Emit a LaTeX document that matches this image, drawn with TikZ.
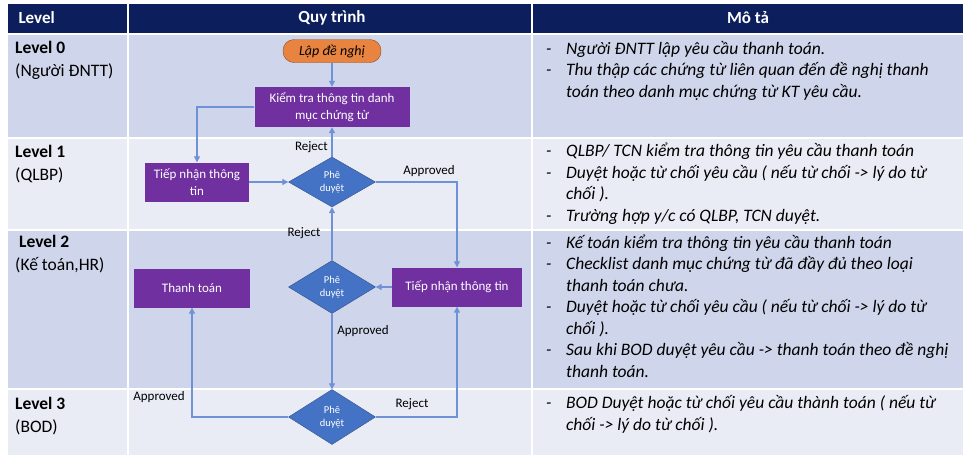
\documentclass[tikz,border=0pt]{standalone}
\usepackage{fontspec}
\setmainfont{Carlito}
\usetikzlibrary{arrows.meta,positioning,shapes.geometric,calc}
\tikzset{>=Stealth}
\definecolor{hdrblue}{HTML}{0C1F5C}
\definecolor{rowdark}{HTML}{CFD5EA}
\definecolor{rowlight}{HTML}{E9EBF5}
\definecolor{procpurple}{HTML}{7030A0}
\definecolor{startorange}{HTML}{E8843F}
\definecolor{decblue}{HTML}{4472C4}
\definecolor{flowline}{HTML}{6F91D6}
\newcommand{\dsh}{\makebox[20pt][l]{-}}
\newcommand{\ind}{\hspace*{20pt}}

\begin{document}
\begin{tikzpicture}[x=1pt, y=-1pt,
    hdr/.style={text=white, font=\bfseries\fontsize{17}{20}\selectfont},
    lvl/.style={font=\fontsize{17.5}{23}\selectfont, align=left, anchor=base west, inner sep=0pt},
    desc/.style={font=\itshape\fontsize{17.5}{21.5}\selectfont, align=left, anchor=base west, inner sep=0pt},
    start/.style={draw=startorange!60!black, fill=startorange, rounded corners=11pt, font=\itshape\fontsize{14}{16}\selectfont},
    proc/.style={fill=procpurple, text=white, align=center, inner sep=0pt, font=\fontsize{13}{16.5}\selectfont},
    dec/.style={diamond, aspect=1.7, draw=decblue!70!black, fill=decblue, text=white, align=center, inner sep=0pt,
      minimum width=87pt, minimum height=53pt, font=\fontsize{10.5}{13.5}\selectfont},
    flow/.style={draw=flowline, line width=1.2pt, -{Triangle[length=6pt,width=6pt]}},
    lbl/.style={font=\fontsize{13}{15}\selectfont, inner sep=1pt}
  ]
    \useasboundingbox (0,0) rectangle (974,464);
    \fill[white] (0,0) rectangle (974,464);

    % table
    \fill[hdrblue]  (8,4)   rectangle (963,34);
    \fill[rowdark]  (8,34)  rectangle (963,138);
    \fill[rowlight] (8,138) rectangle (963,230);
    \fill[rowdark]  (8,230) rectangle (963,389);
    \fill[rowlight] (8,389) rectangle (963,455);
    \foreach \yy in {34,138,230,389} \draw[white, line width=2pt] (8,\yy) -- (963,\yy);
    \draw[white, line width=2pt] (128,4) -- (128,455);
    \draw[white, line width=2pt] (532,4) -- (532,455);

    \node[hdr, anchor=west] (hlevel) at (15,18) {Level};
    \node[hdr] (hflow) at (332,18) {Quy trình};
    \node[hdr] (hdesc) at (748,18) {Mô tả};

    % last line sits on the given baseline
    \node[lvl] (lvA) at (15,76)  {\textbf{Level 0}\\(Người ĐNTT)};
    \node[lvl] (lvB) at (15,180) {\textbf{Level 1}\\(QLBP)};
    \node[lvl] (lvC) at (15,270) {\textbf{\ Level 2}\\(Kế toán,HR)};
    \node[lvl] (lvD) at (15,432) {\textbf{Level 3}\\(BOD)};

    \node[desc] (dsA) at (546,97) {\dsh Người ĐNTT lập yêu cầu thanh toán.\\
      \dsh Thu thập các chứng từ liên quan đến đề nghị thanh\\
      \ind toán theo danh mục chứng từ KT yêu cầu.};
    \node[desc] (dsB) at (546,221) {\dsh QLBP/ TCN kiểm tra thông tin yêu cầu thanh toán\\
      \dsh Duyệt hoặc từ chối yêu cầu ( nếu từ chối -> lý do từ\\
      \ind chối ).\\
      \dsh Trường hợp y/c có QLBP, TCN duyệt.};
    \node[desc] (dsC) at (546,377) {\dsh Kế toán kiểm tra thông tin yêu cầu thanh toán\\
      \dsh Checklist danh mục chứng từ đã đầy đủ theo loại\\
      \ind thanh toán chưa.\\
      \dsh Duyệt hoặc từ chối yêu cầu ( nếu từ chối -> lý do từ\\
      \ind chối ).\\
      \dsh Sau khi BOD duyệt yêu cầu -> thanh toán theo đề nghị\\
      \ind thanh toán.};
    \node[desc] (dsD) at (546,430) {\dsh BOD Duyệt hoặc từ chối yêu cầu thành toán ( nếu từ\\
      \ind chối -> lý do từ chối ).};

    % flow
    \node[start, minimum width=98pt, minimum height=23pt] (lap) at (332,51) {Lập đề nghị};
    \node[proc, minimum width=155pt, minimum height=40pt] (kiemtra) at (332,107) {Kiểm tra thông tin danh\\mục chứng từ};
    \node[proc, minimum width=104pt, minimum height=39pt] (tiepnhanA) at (197,182) {Tiếp nhận thông\\tin};
    \node[dec, minimum height=50pt] (duyetA) at (332,182) {Phê\\duyệt};
    \node[proc, minimum width=130pt, minimum height=39pt] (tiepnhanB) at (457,287) {Tiếp nhận thông tin};
    \node[dec] (duyetB) at (332,287) {Phê\\duyệt};
    \node[proc, minimum width=116pt, minimum height=39pt] (thanhtoan) at (192,288) {Thanh toán};
    \node[dec, minimum height=55pt] (duyetC) at (332,417) {Phê\\duyệt};

    \draw[flow] (lap) -- (kiemtra);
    \draw[flow] (kiemtra.west) -| (tiepnhanA.north);
    \draw[flow] (tiepnhanA) -- (duyetA);
    \draw[flow] (duyetA) -- (kiemtra);
    \draw[flow] (duyetA.east) -| (tiepnhanB.north);
    \draw[flow] (tiepnhanB) -- (duyetB);
    \draw[flow] (duyetB) -- (duyetA);
    \draw[flow] (duyetB) -- (duyetC);
    \draw[flow] (duyetC.west) -| (thanhtoan.south);
    \draw[flow] (duyetC.east) -| (tiepnhanB.south);

    \node[lbl, anchor=east] (rejA) at (329,147) {Reject};
    \node[lbl] (apprA) at (429,171) {Approved};
    \node[lbl] (rejB) at (304,233) {Reject};
    \node[lbl] (apprB) at (363,331) {Approved};
    \node[lbl] (apprC) at (159,397) {Approved};
    \node[lbl] (rejC) at (412,404) {Reject};
  \end{tikzpicture}
\end{document}
